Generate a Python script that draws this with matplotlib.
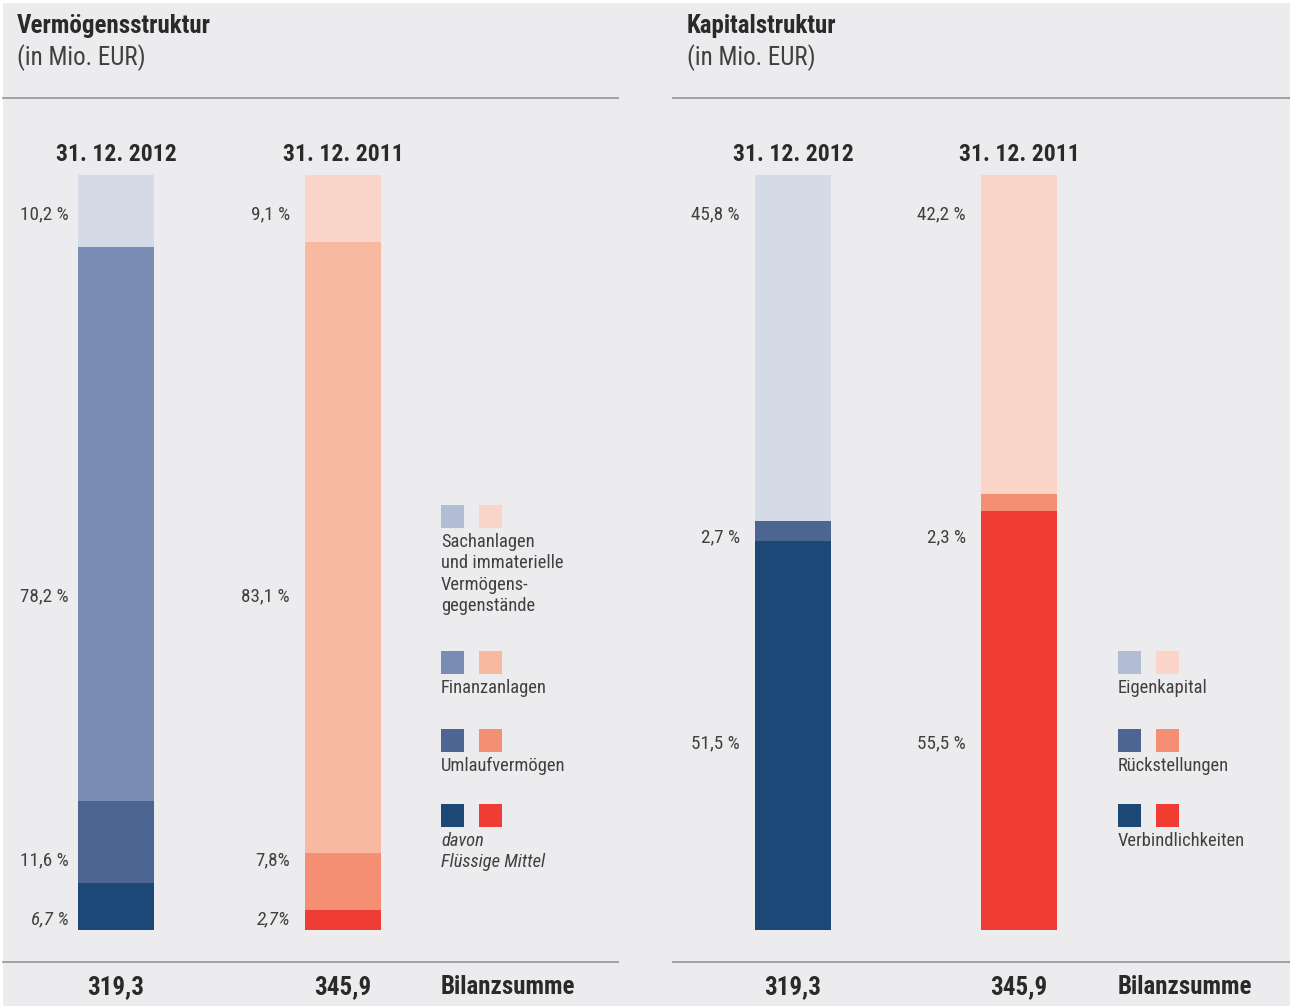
import matplotlib
matplotlib.use("Agg")
import matplotlib.pyplot as plt
import matplotlib.font_manager as fm
from matplotlib.patches import Rectangle

# ---------------- font choice (condensed if available) ----------------
_names = {f.name for f in fm.fontManager.ttflist}
FONT, STRETCH = None, "normal"
for cand in ["Liberation Sans Narrow", "Roboto Condensed", "Open Sans Condensed",
             "Noto Sans Condensed", "DejaVu Sans Condensed"]:
    if cand in _names:
        FONT = cand
        break
if FONT is None:
    conds = [f.name for f in fm.fontManager.ttflist
             if str(f.stretch) in ("condensed", "semi-condensed", "extra-condensed")]
    for pref in ["Roboto", "Noto Sans", "Open Sans", "Liberation Sans", "DejaVu Sans"]:
        if pref in conds:
            FONT, STRETCH = pref, "condensed"
            break
if FONT is None:
    FONT = "Roboto" if "Roboto" in _names else "DejaVu Sans"
plt.rcParams['font.family'] = [FONT, 'DejaVu Sans']
plt.rcParams['font.stretch'] = STRETCH

# ---------------- data ----------------
dates = ["31. 12. 2012", "31. 12. 2011"]
totals = ["319,3", "345,9"]

# Vermögensstruktur (bottom -> top: Flüssige Mittel, Umlauf, Finanz, Sach)
verm_2012 = [6.7, 11.6, 78.2, 10.2]
verm_2011 = [2.7, 7.8, 83.1, 9.1]
verm_lab_2012 = ["6,7 %", "11,6 %", "78,2 %", "10,2 %"]
verm_lab_2011 = ["2,7%", "7,8%", "83,1 %", "9,1 %"]
verm_legend = ["Sachanlagen\nund immaterielle\nVermögens-\ngegenstände",
               "Finanzanlagen", "Umlaufvermögen", "davon\nFlüssige Mittel"]

# Kapitalstruktur (bottom -> top: Verbindlichkeiten, Rückstellungen, Eigenkapital)
kap_2012 = [51.5, 2.7, 45.8]
kap_2011 = [55.5, 2.3, 42.2]
kap_lab_2012 = ["51,5 %", "2,7 %", "45,8 %"]
kap_lab_2011 = ["55,5 %", "2,3 %", "42,2 %"]
kap_legend = ["Eigenkapital", "Rückstellungen", "Verbindlichkeiten"]

# colours (bottom -> top)
blue4 = ["#1C4877", "#4C6591", "#7A8CB4", "#D4DBE7"]
red4 = ["#EF3D33", "#F48F74", "#F9B8A0", "#FBD6C8"]
blue3 = ["#1C4877", "#4C6591", "#D4DBE7"]
red3 = ["#EF3D33", "#F48F74", "#FBD6C8"]
leg_blue = ["#B2BCD4", "#7A8CB4", "#4C6591", "#1C4877"]
leg_red = ["#FBD6C8", "#F9B8A0", "#F48F74", "#EF3D33"]
leg_blue_k = ["#B2BCD4", "#4C6591", "#1C4877"]
leg_red_k = ["#FBD6C8", "#F48F74", "#EF3D33"]

W, H = 1290, 1006
BG = "#ECECEE"
TXT = "#404040"
DARK = "#2A2A2A"

fig = plt.figure(figsize=(W / 100, H / 100), dpi=100, facecolor="white")
fig.patches.append(Rectangle((3 / W, 0), 1, 1 - 3 / H, transform=fig.transFigure,
                             facecolor=BG, edgecolor="none", zorder=-10))


def fx(x):
    return x / W


def fy(y):
    return 1 - y / H


def ftext(x, y, s, **kw):
    fig.text(fx(x), fy(y), s, **kw)


def hline(x0, x1, y):
    fig.add_artist(plt.Line2D([fx(x0), fx(x1)], [fy(y), fy(y)], color="#9C9C9C",
                              lw=1.3, transform=fig.transFigure))


def panel(x0, x1, c0, c1, title, series, colors, labels, label_rows, legend_x,
          legend_rows, legend_texts, leg_cols, italic_idx):
    # header / rules
    ftext(x0 + 14, 26, title, fontsize=18, fontweight="bold", color=DARK,
          va="center", ha="left")
    ftext(x0 + 14, 58, "(in Mio. EUR)", fontsize=18, color=TXT, va="center", ha="left")
    hline(x0, x1, 98)
    hline(x0, x1, 962)

    # bar axes
    y_top, y_bot = 175, 930
    ax = fig.add_axes([fx(x0), fy(y_bot), fx(x1) - fx(x0), fy(y_top) - fy(y_bot)])
    ax.set_facecolor("none")
    d = c1 - c0
    ax.set_xlim(-(c0 - x0) / d, 1 + (x1 - c1) / d)
    ax.set_ylim(0, 100)
    ax.axis("off")
    bw = 76 / d
    for i, (vals, cols) in enumerate(zip(series, colors)):
        tot = sum(vals)
        bottom = 0
        for v, c in zip(vals, cols):
            h = v / tot * 100
            ax.bar(i, h, bottom=bottom, width=bw, color=c, edgecolor="none")
            bottom += h
    # percentage labels (fixed rows like the original)
    for i, labs in enumerate(labels):
        for j, (lab, row) in enumerate(zip(labs, label_rows)):
            gap = 9 if (i == 0 and x0 < 600) else 15
            cx = [c0, c1][i]
            ftext(cx - 38 - gap, row, lab, fontsize=13.8, color=TXT, ha="right",
                  va="center", style="italic" if j == italic_idx else "normal")
    # date headers and totals
    for cx, dt, tt in zip([c0, c1], dates, totals):
        ftext(cx, 154, dt, fontsize=17, fontweight="bold", color=DARK, ha="center", va="center")
        ftext(cx, 987, tt, fontsize=18, fontweight="bold", color=DARK, ha="center", va="center")
    ftext(legend_x, 987, "Bilanzsumme", fontsize=18, fontweight="bold", color=DARK,
          ha="left", va="center")

    # legend
    for k, (row, txt) in enumerate(zip(legend_rows, legend_texts)):
        for m, cl in enumerate(leg_cols):
            fig.patches.append(Rectangle((fx(legend_x + 38 * m), fy(row + 23)), 23 / W, 23 / H,
                                         transform=fig.transFigure, facecolor=cl[k],
                                         edgecolor="none"))
        for n, line in enumerate(txt.split("\n")):
            ftext(legend_x, row + 37 + 21.3 * n, line, fontsize=13.3, color=TXT,
                  ha="left", va="center",
                  style="italic" if txt.startswith("davon") else "normal")


panel(3, 618, 116, 343, "Vermögensstruktur",
      [verm_2012, verm_2011], [blue4, red4],
      [verm_lab_2012, verm_lab_2011], [919, 860, 596, 214],
      441, [505, 651, 729, 804], verm_legend,
      [leg_blue, leg_red], 0)

panel(673, 1290, 793, 1019, "Kapitalstruktur",
      [kap_2012, kap_2011], [blue3, red3],
      [kap_lab_2012, kap_lab_2011], [743, 537, 214],
      1118, [651, 729, 804], kap_legend,
      [leg_blue_k, leg_red_k], -1)

fig.savefig("out.png", dpi=100, facecolor="white")
